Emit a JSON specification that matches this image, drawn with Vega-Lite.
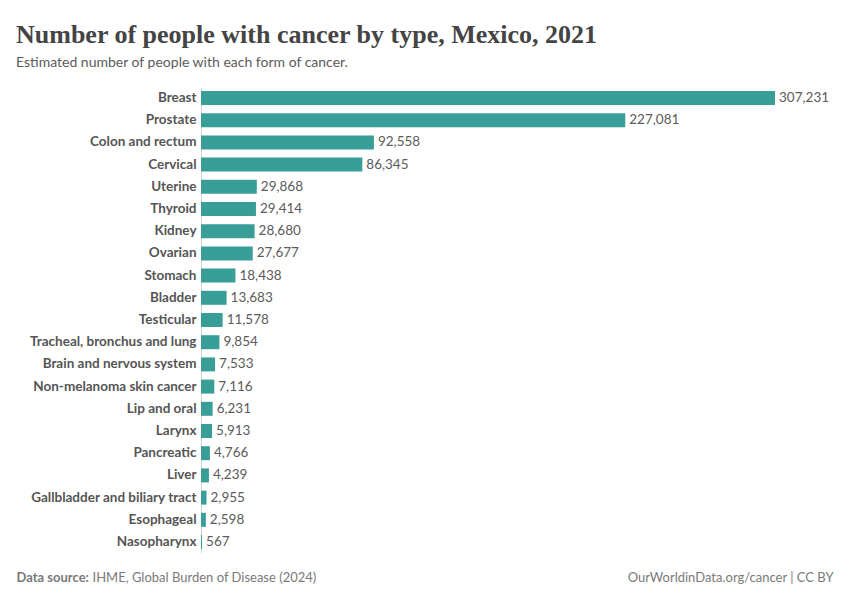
{
  "$schema": "https://vega.github.io/schema/vega-lite/v6.json",
  "autosize": "none",
  "width": 574,
  "height": 466,
  "padding": {"left": 201, "top": 87, "right": 75, "bottom": 47},
  "background": "white",
  "title": {
    "text": "Number of people with cancer by type, Mexico, 2021",
    "subtitle": "Estimated number of people with each form of cancer.",
    "anchor": "start",
    "frame": "group",
    "dx": -185,
    "offset": 17,
    "font": "Liberation Serif",
    "fontSize": 26,
    "fontWeight": "bold",
    "color": "#444444",
    "subtitleFont": "Lato",
    "subtitleFontSize": 14,
    "subtitleColor": "#5b5b5b",
    "subtitlePadding": 8
  },
  "config": {
    "view": {"stroke": null},
    "font": "Lato"
  },
  "data": {
    "values": [
      {"cancer": "Breast", "people": 307231},
      {"cancer": "Prostate", "people": 227081},
      {"cancer": "Colon and rectum", "people": 92558},
      {"cancer": "Cervical", "people": 86345},
      {"cancer": "Uterine", "people": 29868},
      {"cancer": "Thyroid", "people": 29414},
      {"cancer": "Kidney", "people": 28680},
      {"cancer": "Ovarian", "people": 27677},
      {"cancer": "Stomach", "people": 18438},
      {"cancer": "Bladder", "people": 13683},
      {"cancer": "Testicular", "people": 11578},
      {"cancer": "Tracheal, bronchus and lung", "people": 9854},
      {"cancer": "Brain and nervous system", "people": 7533},
      {"cancer": "Non-melanoma skin cancer", "people": 7116},
      {"cancer": "Lip and oral", "people": 6231},
      {"cancer": "Larynx", "people": 5913},
      {"cancer": "Pancreatic", "people": 4766},
      {"cancer": "Liver", "people": 4239},
      {"cancer": "Gallbladder and biliary tract", "people": 2955},
      {"cancer": "Esophageal", "people": 2598},
      {"cancer": "Nasopharynx", "people": 567}
    ]
  },
  "encoding": {
    "y": {
      "field": "cancer",
      "type": "nominal",
      "sort": {"field": "people", "order": "descending"},
      "scale": {"paddingInner": 0.37, "paddingOuter": 0.18},
      "axis": {
        "title": "Data source:",
        "titleAngle": 0,
        "titleX": -185,
        "titleY": 490,
        "titleAlign": "left",
        "titleBaseline": "middle",
        "titleFont": "Lato",
        "titleFontSize": 13,
        "titleFontWeight": "bold",
        "titleColor": "#7a7a7a",
        "labelFont": "Lato",
        "labelFontSize": 13.5,
        "labelFontWeight": "bold",
        "labelColor": "#555555",
        "labelPadding": 5,
        "ticks": false,
        "domain": true,
        "domainColor": "#d5d5d5",
        "domainWidth": 1
      }
    },
    "x": {
      "field": "people",
      "type": "quantitative",
      "scale": {"domain": [0, 307231], "nice": false},
      "axis": {
        "title": "IHME, Global Burden of Disease (2024)",
        "titleX": -109,
        "titleY": 24,
        "titleAlign": "left",
        "titleBaseline": "middle",
        "titleFont": "Lato",
        "titleFontSize": 13,
        "titleFontWeight": "normal",
        "titleColor": "#7a7a7a",
        "labels": false,
        "ticks": false,
        "domain": false,
        "grid": false
      }
    }
  },
  "layer": [
    {
      "mark": {"type": "bar", "color": "#389e97"}
    },
    {
      "mark": {"type": "text", "align": "left", "baseline": "middle", "dx": 4, "font": "Lato", "fontSize": 13.5, "color": "#5b5b5b"},
      "encoding": {
        "text": {"field": "people", "type": "quantitative", "format": ","},
        "x": {
          "field": "people",
          "type": "quantitative",
          "scale": {"domain": [0, 307231], "nice": false},
          "axis": {
            "title": "OurWorldinData.org/cancer | CC BY",
            "orient": "bottom",
            "titleX": 632,
            "titleY": 24,
            "titleAlign": "right",
            "titleBaseline": "middle",
            "titleFont": "Lato",
            "titleFontSize": 13,
            "titleFontWeight": "normal",
            "titleColor": "#7a7a7a",
            "labels": false,
            "ticks": false,
            "domain": false,
            "grid": false
          }
        }
      }
    }
  ],
  "resolve": {"axis": {"x": "independent"}}
}
